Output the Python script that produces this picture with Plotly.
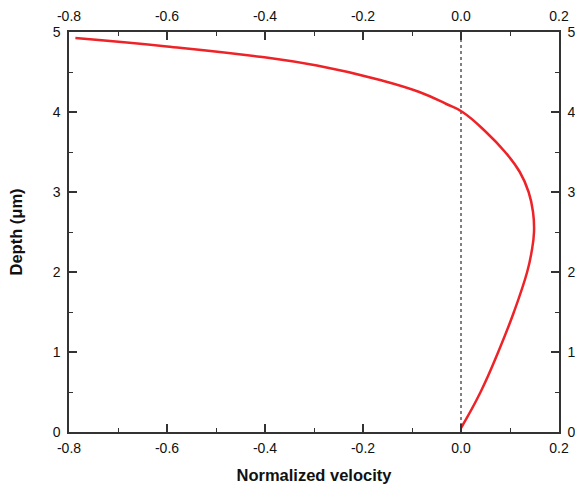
import plotly.graph_objects as go

# Data (depth in µm, normalized velocity)
depth = [0.05, 0.5, 1.0, 1.5, 2.0, 2.25, 2.5, 2.75, 3.0, 3.25, 3.5, 3.75,
         4.0, 4.1, 4.25, 4.4, 4.58, 4.69, 4.82, 4.925]
velocity = [0.000, 0.040, 0.076, 0.108, 0.135, 0.144, 0.149, 0.147, 0.138,
            0.120, 0.090, 0.051, 0.003, -0.030, -0.085, -0.165, -0.294,
            -0.41, -0.60, -0.787]

zero_x = [0.0, 0.0]
zero_y = [0.0, 5.0]

x_ticks = [-0.8, -0.6, -0.4, -0.2, 0.0, 0.2]
x_labels = ["-0.8", "-0.6", "-0.4", "-0.2", "0.0", "0.2"]
y_ticks = [0, 1, 2, 3, 4, 5]
y_labels = ["0", "1", "2", "3", "4", "5"]

FONT = "Liberation Sans, Arial, sans-serif"
AX = "#333333"

fig = go.Figure()
fig.add_trace(go.Scatter(x=zero_x, y=zero_y, mode="lines",
                         line=dict(color="black", width=1, dash="dot"),
                         showlegend=False, hoverinfo="skip"))
fig.add_trace(go.Scatter(x=velocity, y=depth, mode="lines",
                         line=dict(color="#ee2328", width=2.5, shape="spline", smoothing=1.3),
                         showlegend=False))
# invisible trace to anchor mirrored axes
fig.add_trace(go.Scatter(x=zero_x, y=zero_y, xaxis="x2", yaxis="y2", mode="lines",
                         line=dict(width=0), opacity=0, showlegend=False, hoverinfo="skip"))


def axis(**kw):
    minor_dtick = kw.pop("minor_dtick")
    d = dict(showline=True, linecolor=AX, linewidth=1.5, ticks="inside",
             ticklen=8, tickwidth=1.5, tickcolor=AX, showgrid=False, zeroline=False,
             automargin=False,
             tickfont=dict(family=FONT, size=14, color="#111"),
             minor=dict(ticks="inside", ticklen=4, tickwidth=1.2, tickcolor=AX,
                        dtick=minor_dtick, tick0=0))
    d.update(kw)
    return d


fig.update_layout(
    width=575, height=487,
    margin=dict(l=69, r=16, t=32, b=55),
    paper_bgcolor="white", plot_bgcolor="white",
    xaxis=axis(range=[-0.8, 0.2], tickvals=x_ticks, ticktext=x_labels, minor_dtick=0.1,
               title=dict(text="<b>Normalized velocity</b>",
                          font=dict(family=FONT, size=16.5, color="#111"), standoff=15),
               ticklabelstandoff=2),
    yaxis=axis(range=[0, 5], tickvals=y_ticks, ticktext=y_labels, minor_dtick=0.5,
               title=dict(text="<b>Depth (μm)</b>",
                          font=dict(family=FONT, size=16.5, color="#111"), standoff=26),
               ticklabelstandoff=4),
    xaxis2=axis(range=[-0.8, 0.2], tickvals=x_ticks, ticktext=x_labels, minor_dtick=0.1,
                overlaying="x", side="top", anchor="y", matches="x",
                ticklabelstandoff=4),
    yaxis2=axis(range=[0, 5], tickvals=y_ticks, ticktext=y_labels, minor_dtick=0.5,
                overlaying="y", side="right", anchor="x", matches="y",
                ticklabelstandoff=4),
)

fig.write_html("out.html", config={"displayModeBar": False},
               post_script="document.body.style.margin='0px';document.body.style.overflow='hidden';")
